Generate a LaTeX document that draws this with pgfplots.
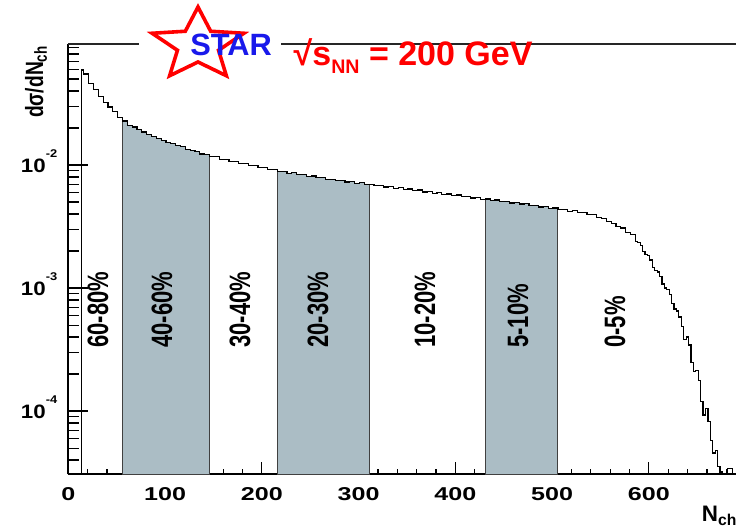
\documentclass[border=0pt]{standalone}
\usepackage{fontspec}
\setmainfont{Liberation Sans}
\usepackage{graphicx}
\usepackage{pgfplots}
\usepackage{pgfplotstable}
\pgfplotsset{compat=1.18}

\definecolor{bandcol}{RGB}{171,189,197}
\definecolor{starblue}{RGB}{25,25,235}
\definecolor{titlered}{RGB}{255,0,0}

\newcommand{\xl}[1]{\scalebox{1.35}[1]{#1}}
\newcommand{\yl}[1]{\scalebox{1.15}[1]{10\raisebox{7.5pt}{\fontsize{5.6}{6}\selectfont\bfseries -#1}}}
\newcommand{\pl}[1]{\scalebox{1}[1.34]{\fontsize{11}{12}\selectfont\bfseries #1}}

\pgfplotstableread{
x y
13.9 1e-7
14 0.0592
16 0.0550
21 0.0462
26 0.0409
31 0.0361
36 0.0323
41 0.0296
46 0.0272
51 0.0245
56 0.0228
61 0.0211
66 0.0204
71 0.0195
76 0.0186
81 0.0176
86 0.0170
91 0.01656
96 0.01585
101 0.0152
106 0.01493
111 0.01439
116 0.01413
121 0.01346
126 0.01318
131 0.01294
136 0.0123
141 0.01219
146 0.01175
151 0.01167
156 0.01117
161 0.01112
166 0.01072
171 0.01074
176 0.01028
181 0.01023
186 0.00991
191 0.00995
196 0.00957
201 0.00955
206 0.00918
211 0.00923
216 0.00891
221 0.00889
226 0.00859
231 0.00867
236 0.00836
241 0.00838
246 0.00809
251 0.00815
256 0.00791
261 0.00793
266 0.00764
271 0.00767
276 0.00746
281 0.00752
286 0.00728
291 0.00733
296 0.00710
301 0.00719
306 0.00697
311 0.00698
316 0.00679
321 0.00687
326 0.00664
331 0.00668
336 0.00649
341 0.00656
346 0.00637
351 0.00640
356 0.00619
361 0.00627
366 0.00605
371 0.00608
376 0.00590
381 0.00597
386 0.00579
391 0.00582
396 0.00564
401 0.00571
406 0.00552
411 0.00555
416 0.00540
421 0.00545
426 0.00525
431 0.00530
436 0.00515
441 0.00520
446 0.00504
451 0.00507
456 0.00492
461 0.00499
466 0.00483
471 0.00484
476 0.00469
481 0.00472
486 0.00456
491 0.00458
496 0.00444
501 0.00448
506 0.00434
511 0.00436
516 0.00422
521 0.00426
526 0.00411
531 0.00412
536 0.00395
541 0.00396
546 0.00375
551 0.00370
556 0.00347
561 0.00337
566 0.00316
571 0.00308
576 0.00282
581 0.00271
586 0.00240
588.5 0.00236
591 0.00222
593.5 0.00198
596 0.00188
598.5 0.00183
601 0.00169
603.5 0.00148
606 0.001387
608.5 0.00135
611 0.001242
613.5 0.00108
616 0.00100
618.5 0.00097
621 0.000889
623.5 0.000745
626 0.000676
628.5 0.000650
631 0.000583
633.5 0.000490
636 0.000380
638.5 0.000400
641 0.000345
643.5 0.000250
646 0.000210
648.5 0.000215
651 0.000178
653.5 0.000120
656 0.0000929
658.5 0.000105
661 0.0000817
663.5 0.000058
666 0.0000456
668.5 0.0000480
671 0.0000355
673.5 0.0000320
676 1e-7
681 3.4e-5
686 1e-7
}\histdata

\begin{document}
\begin{tikzpicture}
\begin{axis}[
  at={(0,0)}, anchor=south west,
  scale only axis, width=333.85pt, height=215pt,
  xmin=0, xmax=690,
  ymode=log, ymin=3.08e-5, ymax=0.0964,
  log origin y=infty,
  axis x line*=bottom, axis y line*=left,
  axis line style={-, line width=0.8pt, black},
  tick align=inside,
  tick style={black, line width=0.6pt},
  major tick length=6pt, minor tick length=2.5pt,
  xtick={0,100,200,300,400,500,600},
  xticklabels={\xl{0},\xl{100},\xl{200},\xl{300},\xl{400},\xl{500},\xl{600}},
  minor xtick={20,40,...,680},
  ytick=\empty, minor ytick={},
  xticklabel style={font=\fontsize{9.3}{10}\selectfont\bfseries, yshift=-3.4pt},
]
\addplot[fill=bandcol, draw=black!75, line width=0.5pt, const plot, restrict x to domain=56:146] table {\histdata} \closedcycle;
\addplot[fill=bandcol, draw=black!75, line width=0.5pt, const plot, restrict x to domain=216:311] table {\histdata} \closedcycle;
\addplot[fill=bandcol, draw=black!75, line width=0.5pt, const plot, restrict x to domain=431:506] table {\histdata} \closedcycle;
\addplot[black, line width=0.6pt, const plot] table {\histdata};
\end{axis}
\begin{axis}[
  at={(0,0)}, anchor=south west,
  scale only axis, width=333.85pt, height=215pt,
  xmin=0, xmax=690,
  ymode=log, ymin=3.08e-5, ymax=0.0964,
  axis x line=none, axis y line*=left,
  axis line style={-, line width=0.8pt, black},
  tick align=inside,
  tick style={black, line width=0.6pt},
  major tick length=10pt, minor tick length=5.5pt,
  xtick=\empty,
  ytick={1e-4,1e-3,1e-2},
  yticklabels={\yl{4},\yl{3},\yl{2}},
  minor ytick={4e-5,5e-5,6e-5,7e-5,8e-5,9e-5,2e-4,3e-4,4e-4,5e-4,6e-4,7e-4,8e-4,9e-4,2e-3,3e-3,4e-3,5e-3,6e-3,7e-3,8e-3,9e-3,2e-2,3e-2,4e-2,5e-2,6e-2,7e-2,8e-2,9e-2},
  yticklabel style={font=\fontsize{9.7}{10}\selectfont\bfseries, anchor=base east, yshift=-3.5pt, xshift=-2pt},
]
\end{axis}
% top frame line
\draw[black!85, line width=0.8pt] (0,215pt) -- (333.85pt,215pt);
% axis titles
\node[rotate=90, anchor=base east, inner sep=0] at (-12.65pt,214.5pt) {\scalebox{1}[1.3]{\fontsize{9.6}{10}\selectfont\bfseries dσ/dN\textsubscript{ch}}};
\node[anchor=base west, inner sep=0] at (316.6pt,-23.85pt) {\fontsize{11.2}{12}\selectfont\bfseries N\textsubscript{ch}};
% centrality labels
\node[rotate=90, anchor=west, inner sep=0] at (14.85pt,63pt) {\pl{60-80\%}};
\node[rotate=90, anchor=west, inner sep=0] at (46.85pt,63pt) {\pl{40-60\%}};
\node[rotate=90, anchor=west, inner sep=0] at (85.85pt,63pt) {\pl{30-40\%}};
\node[rotate=90, anchor=west, inner sep=0] at (124.85pt,63pt) {\pl{20-30\%}};
\node[rotate=90, anchor=west, inner sep=0] at (178.35pt,63pt) {\pl{10-20\%}};
\node[rotate=90, anchor=west, inner sep=0] at (224.85pt,63pt) {\pl{5-10\%}};
\node[rotate=90, anchor=west, inner sep=0] at (273.35pt,63pt) {\pl{0-5\%}};
% STAR logo
\fill[white] (35.35pt,194.5pt) rectangle (106.35pt,237pt);
\begin{scope}[shift={(64.85pt,214.5pt)}, xscale=1.27]
\draw[titlered, line width=1.8pt, fill=white, line join=miter] (90:19pt) -- (126:8.5pt) -- (162:19pt) -- (198:8.5pt) -- (234:19pt) -- (270:8.5pt) -- (306:19pt) -- (342:8.5pt) -- (18:19pt) -- (54:8.5pt) -- cycle;
\end{scope}
\node[anchor=base west, inner sep=0, text=starblue] at (60.85pt,209.5pt) {\fontsize{15.4}{16}\selectfont\bfseries STAR};
\node[anchor=base west, inner sep=0, text=titlered] at (112.5pt,204.5pt) {\fontsize{17}{20}\selectfont\bfseries √s\raisebox{-4.2pt}{\fontsize{9.8}{10}\selectfont NN} = 200 GeV};
\pgfresetboundingbox
\useasboundingbox (-34.15pt,-26.5pt) rectangle (333.85pt,237pt);
\end{tikzpicture}
\end{document}
